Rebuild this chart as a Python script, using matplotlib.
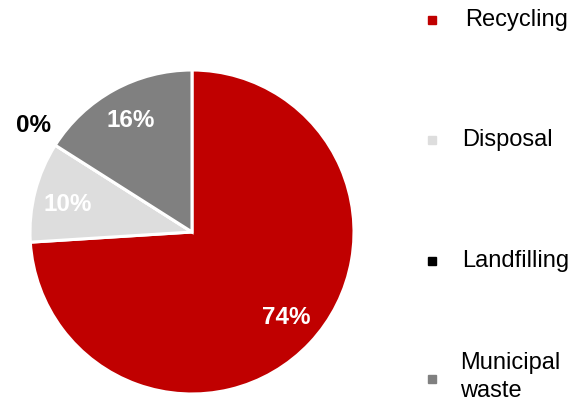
import matplotlib.pyplot as plt

plt.rcParams['font.family'] = ['Liberation Sans', 'DejaVu Sans']

labels = ["Recycling", "Disposal", "Landfilling", "Municipal\nwaste"]
shares = [74, 10, 0, 16]
colors = ["#C00000", "#DDDDDD", "#000000", "#808080"]

fig = plt.figure(figsize=(5.84, 4.03), dpi=100)
ax = fig.add_axes([30 / 584, 9 / 403, 324 / 584, 324 / 403])

wedges, _ = ax.pie(shares, colors=colors, startangle=90, counterclock=False,
                   radius=1, wedgeprops=dict(edgecolor="white", linewidth=2.2))
ax.set_xlim(-1, 1)
ax.set_ylim(-1, 1)
ax.set_aspect("equal")

# percent labels, placed by hand (in axes data units)
label_pos = [(0.58, -0.53), (-0.77, 0.17), (-0.98, 0.66), (-0.38, 0.69)]
label_col = ["white", "white", "black", "white"]
for v, (x, y), c in zip(shares, label_pos, label_col):
    ax.text(x, y, f"{v}%", ha="center", va="center", color=c,
            fontsize=17.5, fontweight="bold")

# legend down the right side
leg_y = [20, 140, 261, 377]
leg_x = [465, 462, 462, 460]
for lab, col, y, x in zip(labels, colors, leg_y, leg_x):
    yy = 1 - y / 403
    my = yy if "\n" not in lab else 1 - 379 / 403
    fig.patches.append(plt.Rectangle((428 / 584, my - 4 / 403), 8 / 584, 8 / 403,
                                     transform=fig.transFigure, color=col))
    fig.text(x / 584, yy, lab, ha="left", va="center", fontsize=17,
             linespacing=1.3)

fig.savefig("out.png", dpi=100)
